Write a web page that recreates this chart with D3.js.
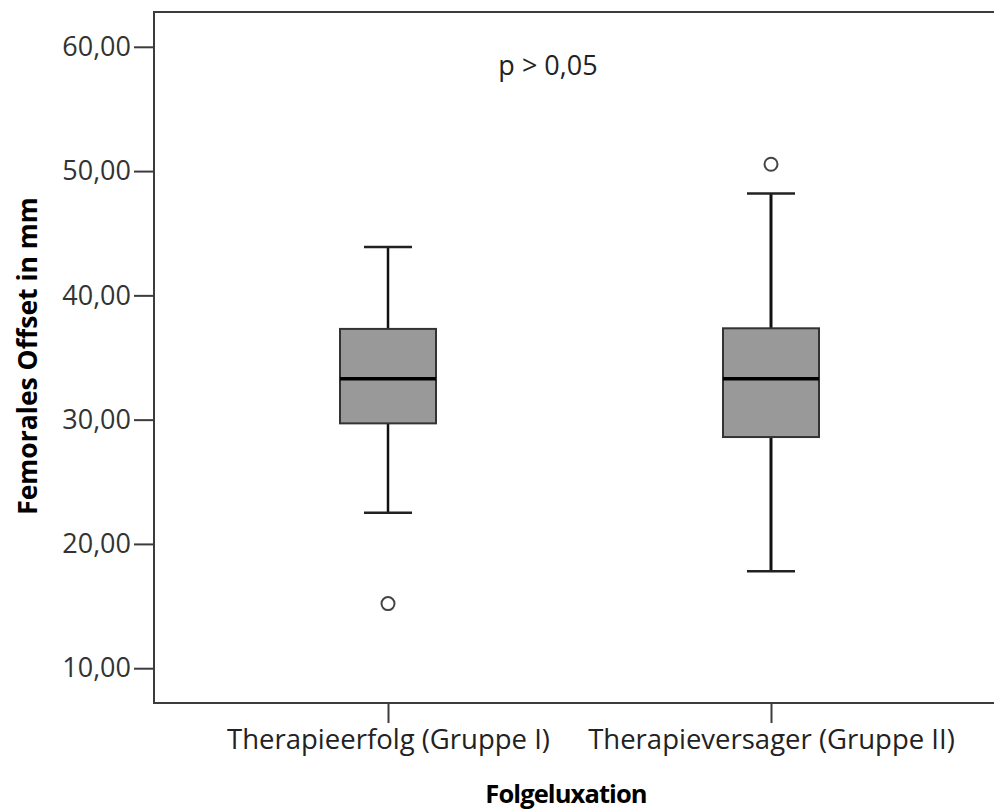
<!DOCTYPE html>
<html>
<head>
<meta charset="utf-8">
<script src="https://cdn.jsdelivr.net/npm/d3@7/dist/d3.min.js"></script>
<style>
  html, body { margin: 0; padding: 0; background: #fff; }
  svg { display: block; }
  text { font-family: "Open Sans", "Noto Sans", sans-serif; }
</style>
</head>
<body>
<svg id="chart" width="994" height="810"></svg>
<script>
// Groups and box-plot statistics (Femorales Offset in mm)
const groups = ["Therapieerfolg (Gruppe I)", "Therapieversager (Gruppe II)"];
const whiskerLow  = [22.5, 17.8];
const q1          = [29.7, 28.6];
const median      = [33.3, 33.3];
const q3          = [37.3, 37.35];
const whiskerHigh = [43.9, 48.2];
const outliers    = [[15.2], [50.55]];
const yTicks      = [10, 20, 30, 40, 50, 60];
const yLabel = "Femorales Offset in mm";
const xLabel = "Folgeluxation";
const note = "p > 0,05";

const boxes = groups.map((g, i) => ({
  group: g, lo: whiskerLow[i], q1: q1[i], med: median[i], q3: q3[i],
  hi: whiskerHigh[i], out: outliers[i], i
}));

const svg = d3.select("#chart");
const plotLeft = 154, plotTop = 12, plotRight = 1005, plotBottom = 703;

const x = d3.scalePoint().domain(groups).range([plotLeft, plotRight]).padding(0.611);
const y = d3.scaleLinear().domain([7.2, 62.8]).range([plotBottom, plotTop]);

const fmt = d => d.toFixed(2).replace(".", ",");

// Frame (the right edge falls outside the view)
svg.append("rect")
  .attr("x", plotLeft).attr("y", plotTop)
  .attr("width", plotRight - plotLeft).attr("height", plotBottom - plotTop)
  .attr("fill", "none").attr("stroke", "#3c3c3c").attr("stroke-width", 2);

// Y axis
const yAxis = d3.axisLeft(y).tickValues(yTicks).tickFormat(fmt).tickSize(20).tickPadding(3);
const gy = svg.append("g").attr("transform", `translate(${plotLeft},0)`).call(yAxis);
gy.select(".domain").remove();
gy.selectAll(".tick line").attr("stroke", "#3c3c3c").attr("stroke-width", 2);
gy.selectAll(".tick text").attr("fill", "#333").attr("font-size", 27)
  .style("font-family", "'Open Sans', sans-serif");

// X axis
const xAxis = d3.axisBottom(x).tickSize(20).tickPadding(6);
const gx = svg.append("g").attr("transform", `translate(0,${plotBottom})`).call(xAxis);
gx.select(".domain").remove();
gx.selectAll(".tick line").attr("stroke", "#3c3c3c").attr("stroke-width", 2);
gx.selectAll(".tick text").attr("fill", "#222").attr("font-size", 27.5)
  .style("font-family", "'Open Sans', sans-serif");

// Boxes
const boxW = 96, capW = 48;
const b = svg.append("g").selectAll("g.box").data(boxes).join("g").attr("class", "box");

// whiskers
b.append("line")
  .attr("x1", d => x(d.group)).attr("x2", d => x(d.group))
  .attr("y1", d => y(d.hi)).attr("y2", d => y(d.q3))
  .attr("stroke", "#111").attr("stroke-width", d => d.i === 0 ? 2.5 : 3);
b.append("line")
  .attr("x1", d => x(d.group)).attr("x2", d => x(d.group))
  .attr("y1", d => y(d.q1)).attr("y2", d => y(d.lo))
  .attr("stroke", "#111").attr("stroke-width", d => d.i === 0 ? 2.5 : 3);
// caps
["hi", "lo"].forEach(k => {
  b.append("line")
    .attr("x1", d => x(d.group) - capW / 2).attr("x2", d => x(d.group) + capW / 2)
    .attr("y1", d => y(d[k])).attr("y2", d => y(d[k]))
    .attr("stroke", "#222").attr("stroke-width", 2.5);
});
// box
b.append("rect")
  .attr("x", d => x(d.group) - boxW / 2).attr("width", boxW)
  .attr("y", d => y(d.q3)).attr("height", d => y(d.q1) - y(d.q3))
  .attr("fill", "#999999").attr("stroke", "#333").attr("stroke-width", 2);
// median
b.append("line")
  .attr("x1", d => x(d.group) - boxW / 2).attr("x2", d => x(d.group) + boxW / 2)
  .attr("y1", d => y(d.med)).attr("y2", d => y(d.med))
  .attr("stroke", "#000").attr("stroke-width", 3.5);
// outliers
b.selectAll("circle").data(d => d.out.map(v => ({ v, group: d.group }))).join("circle")
  .attr("cx", d => x(d.group)).attr("cy", d => y(d.v)).attr("r", 6.5)
  .attr("fill", "#fff").attr("stroke", "#444").attr("stroke-width", 2);

// Axis titles
svg.append("text")
  .attr("transform", `translate(37,356) rotate(-90)`)
  .attr("text-anchor", "middle").attr("font-size", 26.5).attr("font-weight", "bold")
  .attr("fill", "#000").text(yLabel);
svg.append("text")
  .attr("x", 566).attr("y", 803)
  .attr("text-anchor", "middle").attr("font-size", 25.5).attr("font-weight", "bold")
  .attr("letter-spacing", -0.9)
  .attr("fill", "#000").text(xLabel);

// Significance note
svg.append("text")
  .attr("x", 548).attr("y", 75)
  .attr("text-anchor", "middle").attr("font-size", 27)
  .attr("fill", "#222").text(note);
</script>
</body>
</html>
